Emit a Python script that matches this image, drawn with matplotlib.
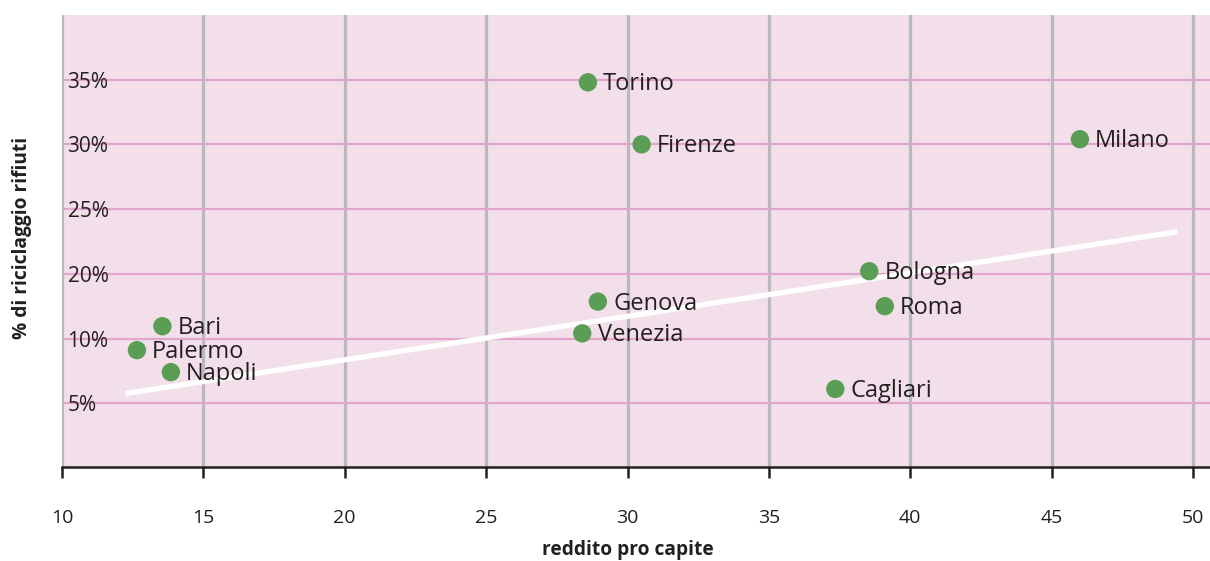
import matplotlib
matplotlib.use("Agg")
import matplotlib.pyplot as plt

# Data
cities = ["Torino", "Firenze", "Milano", "Bologna", "Roma", "Genova",
          "Venezia", "Cagliari", "Bari", "Palermo", "Napoli"]
reddito = [28.6, 30.5, 46.0, 38.55, 39.1, 28.95, 28.4, 37.35, 13.55, 12.65, 13.85]
riciclaggio = [34.8, 30.0, 30.4, 20.2, 17.5, 17.85, 15.4, 11.1, 15.95, 14.1, 12.4]

trend_x = [12.25, 49.45]
trend_y = [10.75, 23.25]

xticks = [10, 15, 20, 25, 30, 35, 40, 45, 50]
yticks = [10, 15, 20, 25, 30, 35]
ytick_labels = ["5%", "10%", "20%", "25%", "30%", "35%"]

xlabel = "reddito pro capite"
ylabel = "% di riciclaggio rifiuti"

plt.rcParams['font.family'] = ['Open Sans', 'DejaVu Sans']
text_color = "#231f20"

fig = plt.figure(figsize=(12.10, 5.61), dpi=100)
ax = fig.add_axes([62/1210, (561-467)/561, (1210-62)/1210, (467-15)/561])
ax.set_facecolor("#f2dfea")

ax.set_xlim(10, 10 + (1210-62)/28.275)
ax.set_ylim(5.07, 40.0)

# grid lines
for x in xticks:
    ax.axvline(x, color="#b9b9bd", lw=2.3, zorder=1)
for y in yticks:
    ax.axhline(y, color="#e2a6cc", lw=1.6, zorder=1)

for s in ["top", "right", "left"]:
    ax.spines[s].set_visible(False)
ax.spines["bottom"].set_color("#231f20")
ax.spines["bottom"].set_linewidth(1.8)
ax.spines["bottom"].set_zorder(3)

ax.set_xticks(xticks)
ax.set_xticklabels([str(v) for v in xticks])
ax.tick_params(axis="x", length=8, width=1.8, color="#231f20", pad=22,
               labelsize=14, labelcolor=text_color)

ax.set_yticks(yticks)
ax.set_yticklabels(ytick_labels)
ax.tick_params(axis="y", length=0, pad=-4, labelsize=15, labelcolor=text_color)
for lbl in ax.get_yticklabels():
    lbl.set_horizontalalignment("left")
    lbl.set_verticalalignment("center_baseline")

# trend line
ax.plot(trend_x, trend_y, color="white", lw=3.8, solid_capstyle="butt", zorder=2)

# points
ax.scatter(reddito, riciclaggio, s=175, color="#5a9e55", edgecolors="none", zorder=4)

for name, x, y in zip(cities, reddito, riciclaggio):
    ax.annotate(name, (x, y), xytext=(11, -1.5), textcoords="offset points",
                ha="left", va="center", fontsize=17, color=text_color, zorder=5)

fig.text((62 + (30-10)*28.275)/1210, 1 - 550/561, xlabel, ha="center", va="center",
         fontsize=13.8, fontweight="bold", color=text_color)
fig.text(22/1210, 1 - 238/561, ylabel, ha="center", va="center", rotation=90,
         fontsize=13.8, fontweight="bold", color=text_color)

fig.savefig("out.png", dpi=100)
